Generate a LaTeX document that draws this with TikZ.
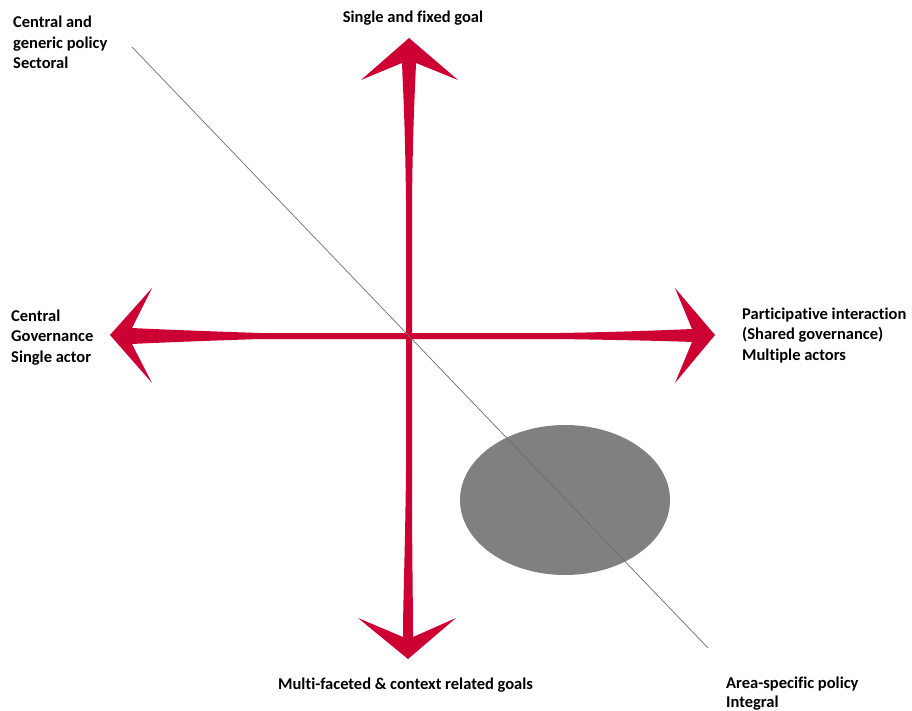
\documentclass[tikz,border=0pt]{standalone}
\usepackage{fontspec}
\setmainfont{Carlito}[Ligatures=NoCommon]
\definecolor{arrowred}{RGB}{204,0,51}
\definecolor{blobgray}{RGB}{128,128,128}
\definecolor{linegray}{RGB}{110,110,110}
\tikzset{
  armfill/.style={fill=arrowred},
  lbl/.style={inner sep=0pt, font=\fontsize{16.5}{20.5}\selectfont\bfseries, align=left},
  diag/.style={draw=linegray, line width=0.7pt},
  blob/.style={fill=blobgray}
}
\begin{document}
\begin{tikzpicture}[x=1pt,y=-1pt]
\useasboundingbox (0,0) rectangle (912,711);
\fill[white] (0,0) rectangle (912,711);
\coordinate (c) at (409,336);
\coordinate (dA) at (132,47);
\coordinate (dB) at (708,648);
% ellipse
\fill[blob] (565,500) ellipse [x radius=105, y radius=75];
% arms
\fill[armfill] (406,336) -- (406,200) .. controls (405,120) and (403,90) .. (402,63) -- (361,80) -- (409,38) -- (458,80) -- (416,63) .. controls (415,90) and (413,120) .. (412,200) -- (412,336) -- cycle;
\fill[armfill] (406,336) -- (406,470) .. controls (405,560) and (403,600) .. (403,637) -- (358,618) -- (408,659) -- (456,618) -- (413,637) .. controls (413,600) and (412,560) .. (412,470) -- (412,336) -- cycle;
\fill[armfill] (409,333) -- (260,333) .. controls (200,331) and (150,329) .. (132,328) -- (152,288) -- (110,335) -- (152,383) -- (132,344) .. controls (150,343) and (200,341) .. (260,339) -- (409,339) -- cycle;
\fill[armfill] (409,333) -- (560,333) .. controls (620,332) and (670,330) .. (692,329) -- (675,288) -- (715,335) -- (675,383) -- (692,342) .. controls (670,341) and (620,340) .. (560,339) -- (409,339) -- cycle;
% diagonal
\draw[diag] (dA) -- (dB);
% labels
\node[lbl, anchor=base] (top) at (413,23) {Single and fixed goal};
\node[lbl, anchor=base west] (tl) at (13,69) {Central and\\generic policy\\Sectoral};
\node[lbl, anchor=base west] (lft) at (11,362) {Central\\Governance\\Single actor};
\node[lbl, anchor=base west] (rgt) at (742,360) {Participative interaction\\(Shared governance)\\Multiple actors};
\node[lbl, anchor=base west] (bot) at (278,689) {Multi-faceted \& context related goals};
\node[lbl, anchor=base west, font=\fontsize{16.5}{19}\selectfont\bfseries] (br) at (726,707) {Area-specific policy\\Integral};
\end{tikzpicture}
\end{document}
